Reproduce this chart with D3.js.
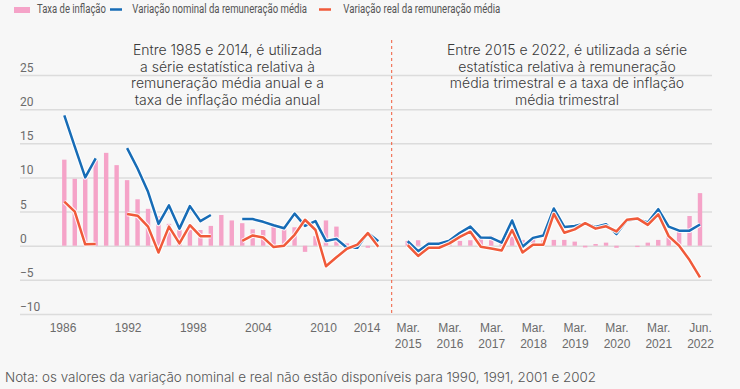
<!DOCTYPE html>
<html>
<head>
<meta charset="utf-8">
<script src="https://cdn.jsdelivr.net/npm/d3@7"></script>
<style>
  html, body { margin: 0; padding: 0; background: #f7f7f7; }
  svg { display: block; font-family: Roboto, "Noto Sans", sans-serif; }
</style>
</head>
<body>
<svg id="chart" width="740" height="389"></svg>
<script>
// ---------- DATA ----------
// Left period (annual series), one entry per plotted position
const leftPeriods = ["1986","1987","1988","1989","1990","1991","1992","1993","1994","1995","1996","1997","1998","1999","2000","2001","2002","2003","2004","2005","2006","2007","2008","2009","2010","2011","2012","2013","2014","2015","2016"];
const leftInflation = [12.6, 9.8, 10.0, 12.5, 13.6, 11.8, 9.6, 6.8, 5.4, 4.3, 3.2, 2.3, 2.7, 2.3, 2.9, 4.5, 3.7, 3.3, 2.4, 2.3, 2.9, 2.5, 2.7, -0.9, 1.4, 3.7, 2.8, 0.35, null, -0.3, null];
const leftNominal = [19.1, 14.5, 10.0, 12.8, null, null, 14.3, 11.3, 7.9, 3.2, 5.9, 2.5, 5.8, 3.6, 4.5, null, null, 3.9, 3.9, 3.5, 3.0, 2.55, 4.7, 2.9, 3.6, 0.7, 1.0, -0.3, -0.3, 1.9, 0.65];
const leftReal = [6.45, 5.0, 0.2, 0.25, null, null, 4.65, 4.4, 2.8, -1.0, 2.8, 0.35, 3.0, 1.4, 1.4, null, null, 0.7, 1.5, 1.2, -0.2, 0.0, 1.6, 3.8, 2.3, -3.0, -1.7, -0.45, 0.15, 1.85, -0.15];
const leftTickYears = [1986, 1992, 1998, 2004, 2010, 2014];

// Right period (quarterly series)
const rightInflation = [0.7, 0.8, 0.6, 0.6, 0.6, 0.7, 0.8, 1.3, 1.45, 0.9, 1.3, 0.85, 1.0, 0.8, 0.85, 0.85, 0.6, -0.25, 0.25, 0.45, -0.3, null, -0.2, 0.45, 0.85, 1.55, 2.2, 4.35, 7.7];
const rightNominal = [0.65, -0.8, 0.3, 0.3, 0.75, 1.9, 2.8, 1.2, 1.15, 0.45, 3.7, -0.15, 1.15, 1.5, 5.45, 2.75, 2.9, 3.25, 2.75, 3.15, 1.7, 3.7, 3.9, 3.4, 5.35, 2.8, 2.2, 2.2, 3.1];
const rightReal = [0.1, -1.5, -0.3, -0.3, 0.35, 1.3, 2.05, -0.15, -0.4, -0.7, 2.3, -1.0, 0.15, 0.15, 4.65, 1.9, 2.4, 3.3, 2.5, 2.85, 2.1, 3.8, 4.0, 3.05, 4.6, 1.4, 0.0, -2.1, -4.65];
const rightTickIndex = [0, 4, 8, 12, 16, 20, 24, 28];
const rightTickLabels = ["Mar.|2015", "Mar.|2016", "Mar.|2017", "Mar.|2018", "Mar.|2019", "Mar.|2020", "Mar.|2021", "Jun.|2022"];

const yTicks = [-10, -5, 0, 5, 10, 15, 20, 25];

const legendItems = ["Taxa de inflação", "Variação nominal da remuneração média", "Variação real da remuneração média"];
const leftNote = ["Entre 1985 e 2014, é utilizada", "a série estatística relativa à", "remuneração média anual e a", "taxa de inflação média anual"];
const rightNote = ["Entre 2015 e 2022, é utilizada a série", "estatística relativa à remuneração", "média trimestral e a taxa de inflação", "média trimestral"];
const footNote = "Nota: os valores da variação nominal e real não estão disponíveis para 1990, 1991, 2001 e 2002";

// ---------- STYLE ----------
const C = { bg: "#f7f7f7", pink: "#f5a3c8", blue: "#176cb6", red: "#f05a3a", grid: "#dcdcdc", axis: "#6b6b6b", text: "#3a3a3a" };

const svg = d3.select("#chart");
svg.append("rect").attr("width", 740).attr("height", 389).attr("fill", C.bg);

// ---------- SCALES ----------
const y = d3.scaleLinear().domain([-10, 25]).range([314, 75]);
const xL = d3.scaleLinear().domain([0, leftPeriods.length - 1]).range([64.3, 378.3]);
const xLYear = d3.scaleLinear().domain([1986, 2014]).range([62.5, 366.5]);
const xR = d3.scaleLinear().domain([0, rightNominal.length - 1]).range([407.7, 700]);

// ---------- GRID + Y AXIS ----------
const gy = svg.append("g").attr("transform", "translate(20,0)")
  .call(d3.axisRight(y).tickValues(yTicks).tickSize(692).tickFormat(d3.format("d")));
gy.select(".domain").remove();
gy.selectAll(".tick line").attr("stroke", C.grid).attr("stroke-width", 1.5);
gy.selectAll(".tick text").attr("x", 0).attr("y", 0).attr("dy", -3.5).attr("text-anchor", "start")
  .attr("fill", C.axis).style("font-size", "12px").style("font-family", "Roboto");

// ---------- DIVIDER ----------
svg.append("line").attr("x1", 391.7).attr("x2", 391.7).attr("y1", 40).attr("y2", 316)
  .attr("stroke", C.red).attr("stroke-width", 1).attr("stroke-dasharray", "3,3");

// ---------- BARS ----------
const bw = 4.4;
function bars(data, x) {
  svg.append("g").selectAll("rect").data(data.map((v, i) => ({ v, i })).filter(d => d.v != null))
    .join("rect")
    .attr("x", d => x(d.i) - bw / 2).attr("width", bw)
    .attr("y", d => Math.min(y(d.v), y(0))).attr("height", d => Math.abs(y(d.v) - y(0)))
    .attr("fill", C.pink);
}
bars(leftInflation, xL);
bars(rightInflation, xR);

// ---------- LINES ----------
function drawLine(data, x, color) {
  const line = d3.line().defined(d => d != null).x((d, i) => x(i)).y(d => y(d));
  svg.append("path").attr("d", line(data)).attr("fill", "none").attr("stroke", "#ffffff")
    .attr("stroke-width", 4.6).attr("stroke-linejoin", "round").attr("stroke-opacity", 0.9);
  svg.append("path").attr("d", line(data)).attr("fill", "none").attr("stroke", color)
    .attr("stroke-width", 2.5).attr("stroke-linejoin", "round");
}
drawLine(leftNominal, xL, C.blue);
drawLine(rightNominal, xR, C.blue);
drawLine(leftReal, xL, C.red);
drawLine(rightReal, xR, C.red);

// ---------- X AXES ----------
const gxl = svg.append("g").attr("transform", "translate(0,320)")
  .call(d3.axisBottom(xLYear).tickValues(leftTickYears).tickSize(0).tickPadding(0).tickFormat(d3.format("d")));
gxl.select(".domain").remove();
gxl.selectAll(".tick text").attr("y", 12).attr("dy", 0).attr("fill", C.axis).style("font-size", "12px");

const gxr = svg.append("g").attr("transform", "translate(0,320)")
  .call(d3.axisBottom(xR).tickValues(rightTickIndex).tickSize(0).tickPadding(0)
    .tickFormat((d, i) => rightTickLabels[i]));
gxr.select(".domain").remove();
gxr.selectAll(".tick text").each(function (d, i) {
  const parts = rightTickLabels[i].split("|");
  const t = d3.select(this).text(null).attr("y", 0).attr("dy", 0).attr("fill", C.axis).style("font-size", "12px");
  t.append("tspan").attr("x", 0).attr("y", 12).text(parts[0]);
  t.append("tspan").attr("x", 0).attr("y", 28).text(parts[1]);
});

// ---------- ANNOTATIONS ----------
function block(lines, cx) {
  const t = svg.append("text").attr("text-anchor", "middle").attr("fill", C.text)
    .style("font-family", "Inter, Roboto, sans-serif").style("font-weight", 300).style("font-size", "14px");
  lines.forEach((s, i) => t.append("tspan").attr("x", cx).attr("y", 55 + i * 16.5).text(s));
}
block(leftNote, 227.5);
block(rightNote, 567);

// ---------- LEGEND (condensed by horizontal scaling) ----------
const lg = svg.append("g");
function legendText(label, x, width) {
  const g = lg.append("g");
  const t = g.append("text").attr("x", 0).attr("y", 0).attr("fill", "#555").style("font-size", "13px").text(label);
  const natural = t.node().getComputedTextLength();
  g.attr("transform", `translate(${x},13) scale(${width / natural},1)`);
}
lg.append("rect").attr("x", 14).attr("y", 7).attr("width", 16).attr("height", 6).attr("fill", C.pink);
legendText(legendItems[0], 37, 69);
lg.append("line").attr("x1", 110).attr("x2", 122).attr("y1", 9.5).attr("y2", 9.5).attr("stroke", C.blue).attr("stroke-width", 2.5);
legendText(legendItems[1], 132.3, 175);
lg.append("line").attr("x1", 319).attr("x2", 331).attr("y1", 9.5).attr("y2", 9.5).attr("stroke", C.red).attr("stroke-width", 2.5);
legendText(legendItems[2], 343.3, 157);

// ---------- FOOTNOTE ----------
svg.append("text").attr("x", 5).attr("y", 382).attr("fill", "#555")
  .style("font-family", "Inter, Roboto, sans-serif").style("font-weight", 300).style("font-size", "13.4px").text(footNote);
</script>
</body>
</html>
